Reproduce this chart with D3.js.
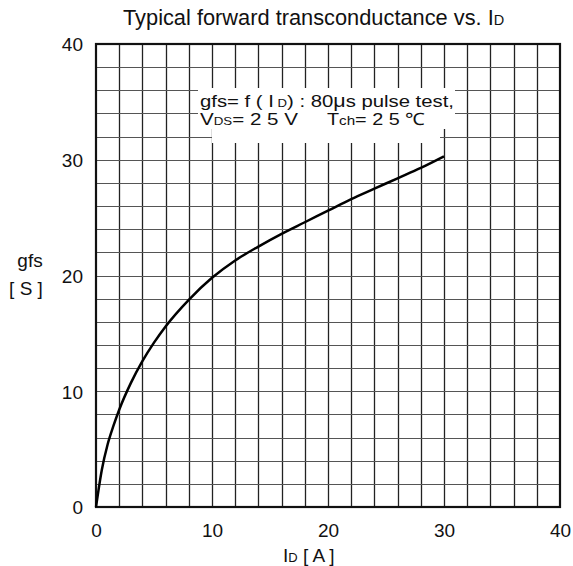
<!DOCTYPE html>
<head>
  <meta charset="utf-8">
  <script src="https://d3js.org/d3.v7.min.js"></script>
  <style>
    body { margin: 0; background: #fff; }
    text { font-family: "Liberation Sans", Arial, sans-serif; fill: #111; }
  </style>
</head>
<body>
  <svg width="573" height="566"></svg>
  <script>
    // gfs vs ID
    const currentA = [0, 0.5, 1, 1.5, 2, 3, 4, 5, 6, 8, 10, 12, 14, 16, 18, 20, 22, 24, 26, 28, 30];
    const gfsS = [0, 3.2, 5.4, 7.0, 8.4, 10.7, 12.6, 14.2, 15.6, 17.9, 19.8, 21.3, 22.5, 23.6, 24.6, 25.6, 26.6, 27.5, 28.4, 29.3, 30.3];
    const xTicks = [0, 10, 20, 30, 40];
    const yTicks = [0, 10, 20, 30, 40];
    const gridStep = 2;

    const svg = d3.select('svg');
    const pLeft = 96, pRight = 560, pTop = 44, pBottom = 507;

    const x = d3.scaleLinear().domain([0, 40]).range([pLeft, pRight]);
    const y = d3.scaleLinear().domain([0, 40]).range([pBottom, pTop]);

    // title
    const title = svg.append('text').attr('x', 123).attr('y', 25).attr('font-size', 21.8);
    title.append('tspan').text('Typical forward transconductance vs. I');
    title.append('tspan').attr('font-size', 14.5).text('D');

    // grid: vertical dark, horizontal a bit lighter
    const gridX = d3.range(gridStep, 40, gridStep);
    const gridY = d3.range(gridStep, 40, gridStep);
    svg.append('g').attr('class', 'vgrid').selectAll('line').data(gridX).join('line')
      .attr('x1', d => Math.round(x(d)) + 0.5).attr('x2', d => Math.round(x(d)) + 0.5)
      .attr('y1', pTop).attr('y2', pBottom)
      .attr('stroke', '#222').attr('stroke-width', 1.3);
    svg.append('g').attr('class', 'hgrid').selectAll('line').data(gridY).join('line')
      .attr('x1', pLeft).attr('x2', pRight)
      .attr('y1', d => Math.round(y(d)) + 0.5).attr('y2', d => Math.round(y(d)) + 0.5)
      .attr('stroke', '#555').attr('stroke-width', 1.2);

    // annotation box blanks out part of the grid
    svg.append('rect').attr('x', 198).attr('y', 88).attr('width', 257).attr('height', 41).attr('fill', '#fff');
    svg.append('rect').attr('x', 212).attr('y', 128).attr('width', 228).attr('height', 15).attr('fill', '#fff');

    const ann = svg.append('g').style('font-family', '"Noto Sans CJK JP", "DejaVu Sans", sans-serif');
    const l1 = ann.append('text').attr('x', 200).attr('y', 107).attr('font-size', 17)
      .attr('textLength', 254).attr('lengthAdjust', 'spacingAndGlyphs');
    l1.append('tspan').text('gfs= f ( I');
    l1.append('tspan').attr('font-size', 11).text(' D');
    l1.append('tspan').text(') : 80');
    l1.append('tspan').attr('font-size', 18).text('μ');
    l1.append('tspan').text('s pulse test,');
    const l2 = ann.append('text').attr('x', 200).attr('y', 125).attr('font-size', 17)
      .attr('textLength', 98).attr('lengthAdjust', 'spacingAndGlyphs');
    l2.append('tspan').text('V');
    l2.append('tspan').attr('font-size', 11).text('DS');
    l2.append('tspan').text('= 2 5 V');
    const l3 = ann.append('text').attr('x', 327).attr('y', 125).attr('font-size', 17)
      .attr('textLength', 98).attr('lengthAdjust', 'spacingAndGlyphs');
    l3.append('tspan').text('T');
    l3.append('tspan').attr('font-size', 13).text('ch');
    l3.append('tspan').text('= 2 5 ℃');

    // frame
    svg.append('rect').attr('x', pLeft).attr('y', pTop)
      .attr('width', pRight - pLeft).attr('height', pBottom - pTop)
      .attr('fill', 'none').attr('stroke', '#111').attr('stroke-width', 2.2);

    // curve
    const line = d3.line().x((d, i) => x(currentA[i])).y(d => y(d)).curve(d3.curveMonotoneX);
    svg.append('path').datum(gfsS).attr('d', line)
      .attr('fill', 'none').attr('stroke', '#000').attr('stroke-width', 2.5);

    // axes
    const xAxis = svg.append('g').attr('transform', `translate(0,${pBottom + 30})`)
      .call(d3.axisBottom(x).tickValues(xTicks).tickSize(0).tickPadding(0));
    xAxis.select('.domain').remove();
    xAxis.selectAll('text').attr('font-size', 19).attr('dy', 0).attr('fill', '#111')
      .style('font-family', '"Liberation Sans", Arial, sans-serif');

    const yAxis = svg.append('g').attr('transform', `translate(${pLeft - 13},0)`)
      .call(d3.axisLeft(y).tickValues(yTicks).tickSize(0).tickPadding(0));
    yAxis.select('.domain').remove();
    yAxis.selectAll('text').attr('font-size', 19).attr('dy', '0.36em').attr('fill', '#111')
      .style('font-family', '"Liberation Sans", Arial, sans-serif');

    // axis titles
    svg.append('text').attr('x', 30).attr('y', 267).attr('text-anchor', 'middle').attr('font-size', 19).text('gfs');
    svg.append('text').attr('x', 26).attr('y', 295).attr('text-anchor', 'middle').attr('font-size', 19).text('[ S ]');

    const xt = svg.append('text').attr('x', 283).attr('y', 562).attr('font-size', 19);
    xt.append('tspan').text('I');
    xt.append('tspan').attr('font-size', 13).text('D');
    xt.append('tspan').text('  [ A ]');
  </script>
</body>
